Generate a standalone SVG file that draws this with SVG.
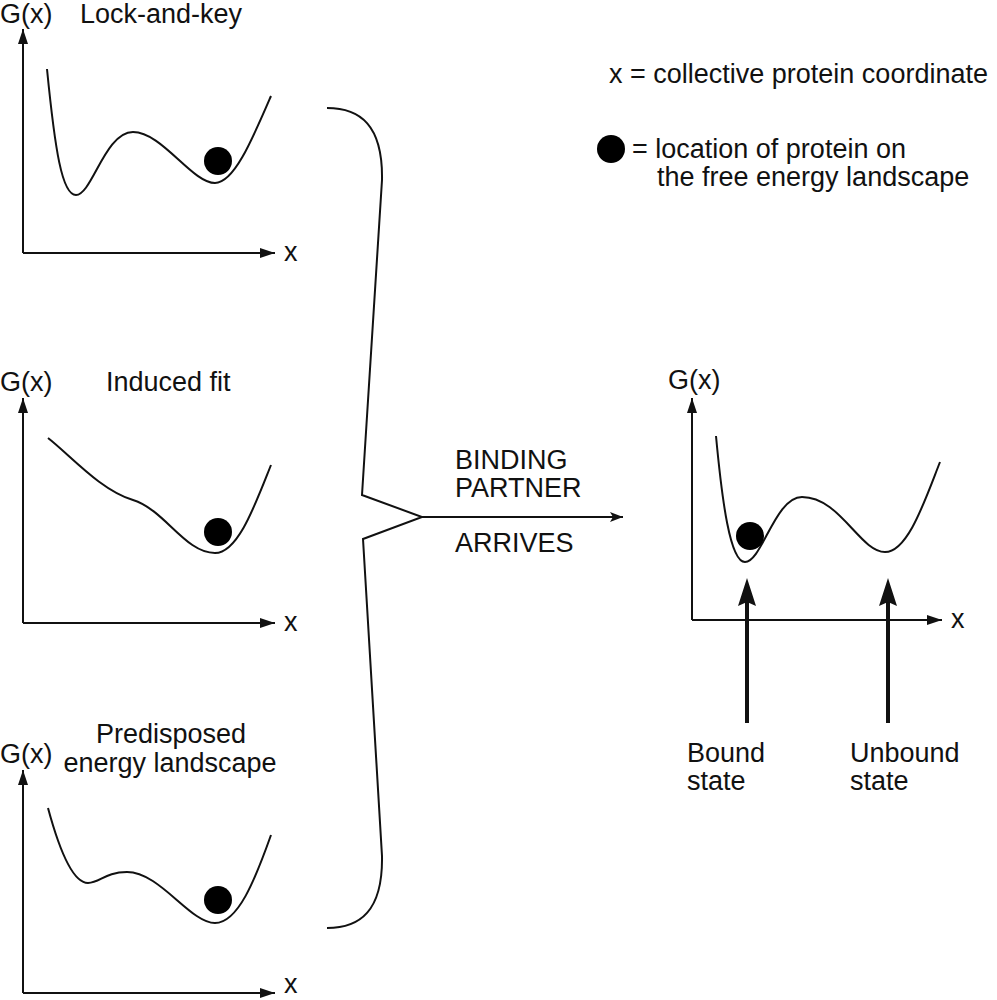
<svg xmlns="http://www.w3.org/2000/svg" width="997" height="1000" viewBox="0 0 997 1000">
<style>
text{font-family:"Liberation Sans",Arial,sans-serif;font-size:27px;fill:#111}
.ax{stroke:#111;stroke-width:2;fill:none;marker-end:url(#ah)}
.cv{stroke:#111;stroke-width:2;fill:none}
.ball{fill:#000}
</style>
<defs>
<marker id="ah" markerUnits="userSpaceOnUse" markerWidth="16" markerHeight="10" refX="15" refY="5" orient="auto">
<path d="M0,0 L15,5 L0,10 z" fill="#111"/>
</marker>
<marker id="ah2" markerUnits="userSpaceOnUse" markerWidth="14" markerHeight="10" refX="13" refY="5" orient="auto">
<path d="M0,0 L13,5 L0,10 L3,5 z" fill="#111"/>
</marker>
</defs>
<rect width="997" height="1000" fill="#fff"/>

<g id="panel-lock-and-key">
<text x="0" y="23">G(x)</text>
<text x="80" y="23">Lock-and-key</text>
<path class="ax" d="M23,253 L23,29"/>
<path class="ax" d="M23,253 L275,253"/>
<text x="284" y="261">x</text>
<path class="cv" d="M47,69 C55,150 62,195 76,195 C92,195 105,132 133,132 C162,132 192,183 215,183 C234,183 252,140 271,96"/>
<circle class="ball" cx="218" cy="161" r="14"/>
</g>

<g id="panel-induced-fit">
<text x="0" y="391">G(x)</text>
<text x="106" y="391">Induced fit</text>
<path class="ax" d="M23,623 L23,398"/>
<path class="ax" d="M23,623 L275,623"/>
<text x="284" y="631">x</text>
<path class="cv" d="M48,438 C70,455 100,490 133,500 C165,510 185,553 215,553 C238,553 255,505 271,465"/>
<circle class="ball" cx="218" cy="532" r="14"/>
</g>

<g id="panel-predisposed">
<text x="0" y="763">G(x)</text>
<text x="171" y="743" text-anchor="middle">Predisposed</text>
<text x="170" y="772" text-anchor="middle">energy landscape</text>
<path class="ax" d="M23,993 L23,770"/>
<path class="ax" d="M23,993 L275,993"/>
<text x="284" y="993">x</text>
<path class="cv" d="M48,808 C58,845 72,883 88,883 C100,883 105,872 127,872 C160,872 190,923 215,923 C238,923 255,880 271,835"/>
<circle class="ball" cx="218" cy="900" r="14"/>
</g>

<g id="legend">
<text x="609" y="83">x = collective protein coordinate</text>
<circle class="ball" cx="611" cy="149" r="14"/>
<text x="632" y="158">= location of protein on</text>
<text x="657" y="186">the free energy landscape</text>
</g>

<g id="panel-bound">
<text x="668" y="389">G(x)</text>
<path class="ax" d="M692,620 L692,398"/>
<path class="ax" d="M692,620 L942,620"/>
<text x="951" y="628">x</text>
<path class="cv" d="M716,436 C722,500 730,562 745,562 C762,562 775,497 802,497 C840,497 860,552 885,552 C908,552 925,500 940,462"/>
<circle class="ball" cx="750" cy="536" r="14"/>
<text x="687" y="762">Bound</text>
<text x="687" y="790">state</text>
<text x="850" y="762">Unbound</text>
<text x="850" y="790">state</text>
</g>

<g id="connectors">
<path id="brace" class="cv" d="M327,108 C360,108 383,125 382,180 L362,495 L422,517 L363,539 L382,856 C383,911 360,928 327,928"/>
<path id="binding-arrow" d="M422,517 L623,517" stroke="#111" stroke-width="2" fill="none" marker-end="url(#ah2)"/>
<text x="455" y="469">BINDING</text>
<text x="455" y="497">PARTNER</text>
<text x="455" y="552">ARRIVES</text>
<g id="bound-arrow">
<line x1="747" y1="723" x2="747" y2="600" stroke="#111" stroke-width="4"/>
<polygon points="747,578 756,606 747,602 738,606" fill="#111"/>
</g>
<g id="unbound-arrow">
<line x1="888" y1="723" x2="888" y2="600" stroke="#111" stroke-width="4"/>
<polygon points="888,578 897,606 888,602 879,606" fill="#111"/>
</g>
</g>
</svg>
